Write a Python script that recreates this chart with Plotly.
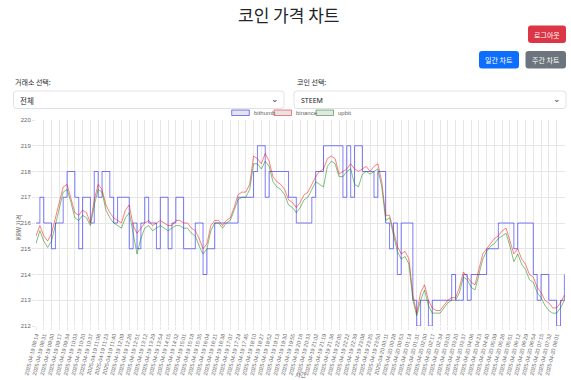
import plotly.graph_objects as go

# ---------------- data ----------------
tick_labels = [
    "2025-04-19 08:14", "2025-04-19 08:31", "2025-04-19 09:00", "2025-04-19 09:17", "2025-04-19 09:34",
    "2025-04-19 10:03", "2025-04-19 10:20", "2025-04-19 10:37", "2025-04-19 11:06", "2025-04-19 11:23",
    "2025-04-19 11:40", "2025-04-19 12:09", "2025-04-19 12:26", "2025-04-19 12:51", "2025-04-19 13:12",
    "2025-04-19 13:29", "2025-04-19 13:54", "2025-04-19 14:15", "2025-04-19 14:32", "2025-04-19 15:01",
    "2025-04-19 15:18", "2025-04-19 15:35", "2025-04-19 16:04", "2025-04-19 16:21", "2025-04-19 16:38",
    "2025-04-19 17:07", "2025-04-19 17:24", "2025-04-19 17:45", "2025-04-19 18:10", "2025-04-19 18:27",
    "2025-04-19 18:52", "2025-04-19 19:13", "2025-04-19 19:30", "2025-04-19 19:55", "2025-04-19 20:16",
    "2025-04-19 20:33", "2025-04-19 21:02", "2025-04-19 21:19", "2025-04-19 21:36", "2025-04-19 22:05",
    "2025-04-19 22:22", "2025-04-19 22:39", "2025-04-19 23:08", "2025-04-19 23:25", "2025-04-19 23:50",
    "2025-04-20 00:11", "2025-04-20 00:28", "2025-04-20 00:53", "2025-04-20 01:14", "2025-04-20 01:31",
    "2025-04-20 02:00", "2025-04-20 02:17", "2025-04-20 02:34", "2025-04-20 03:03", "2025-04-20 03:20",
    "2025-04-20 03:37", "2025-04-20 04:06", "2025-04-20 04:23", "2025-04-20 04:40", "2025-04-20 05:09",
    "2025-04-20 05:26", "2025-04-20 05:51", "2025-04-20 06:12", "2025-04-20 06:29", "2025-04-20 06:54",
    "2025-04-20 07:15", "2025-04-20 07:32", "2025-04-20 08:01",
]

bithumb = [
    216, 217, 216, 216, 215, 216, 216, 217, 218, 218, 217, 215, 217, 217, 216, 218, 217, 218, 218, 217,
    216, 217, 217, 217, 215, 216, 215, 216, 217, 216, 216, 215, 217, 217, 215, 216, 217, 217, 215, 215,
    215, 216, 216, 214, 215, 215, 216, 216, 216, 216, 216, 216, 217, 217, 217, 217, 218, 219, 219, 217,
    218, 218, 218, 218, 218, 217, 217, 216, 216, 216, 216, 217, 218, 218, 219, 219, 219, 219, 219, 217,
    219, 217, 219, 219, 218, 218, 218, 217, 218, 218, 216, 215, 216, 214, 216, 216, 216, 213, 212, 213,
    213, 212, 213, 213, 213, 213, 213, 214, 213, 213, 214, 213, 214, 214, 214, 214, 215, 215, 215, 216,
    216, 216, 216, 215, 216, 216, 216, 216, 214, 213, 214, 214, 213, 213, 212, 213, 214,
]

binance = [
    215.5, 215.9, 215.5, 215.3, 215.6, 216.2, 216.7, 217.4, 217.5, 216.9, 216.4, 216.3, 216.5, 216.4, 216.0, 216.9, 217.5, 217.3, 216.7, 216.4,
    216.2, 216.1, 216.0, 216.5, 216.7, 215.9, 215.6, 215.8, 216.0, 216.1, 215.9, 216.0, 216.1, 216.0, 215.9, 215.9, 216.1, 216.1, 216.0, 216.0,
    215.8, 215.7, 215.4, 215.0, 215.2, 215.9, 216.1, 216.1, 215.9, 216.1, 216.2, 216.6, 217.1, 217.2, 217.2, 217.5, 218.6, 218.5, 218.3, 218.7,
    218.4, 217.8, 217.6, 217.5, 217.3, 216.9, 216.8, 216.6, 216.8, 217.1, 217.2, 217.5, 217.8, 218.0, 218.1, 218.5, 218.6, 218.5, 217.9, 218.0,
    218.1, 218.3, 218.1, 218.0, 218.1, 218.2, 218.0, 218.2, 218.3, 217.6, 216.3, 216.3, 215.7, 215.1, 214.8, 214.9, 214.6, 213.2, 212.5, 213.3,
    213.6, 213.0, 212.7, 212.6, 212.6, 212.8, 213.0, 213.1, 213.1, 213.5, 214.1, 213.9, 213.7, 213.6, 214.2, 214.8, 215.0, 215.2, 215.4, 215.5,
    215.7, 215.8, 215.3, 214.8, 215.0, 214.6, 214.4, 214.0, 213.9, 213.5, 213.3, 213.0, 212.9, 212.7, 212.7, 212.9, 213.2,
]

upbit = [
    215.2, 215.7, 215.3, 215.05, 215.3, 215.9, 216.5, 217.2, 217.3, 216.8, 216.2, 216.1, 216.3, 216.2, 215.9, 216.7, 217.3, 217.2, 216.5, 216.2,
    216.0, 215.9, 215.8, 216.2, 216.4, 215.6, 214.8, 215.4, 215.8, 215.9, 215.7, 215.8, 215.9, 215.8, 215.7, 215.8, 215.9, 215.9, 215.8, 215.8,
    215.6, 215.5, 215.1, 214.8, 215.0, 215.7, 216.0, 216.0, 215.8, 216.0, 216.1, 216.5, 216.9, 217.0, 217.0, 217.3, 218.3, 218.3, 218.1, 218.4,
    218.2, 217.6, 217.4, 217.3, 217.1, 216.7, 216.6, 216.4, 216.6, 216.9, 217.0, 217.3, 217.6, 217.5, 217.4, 218.2, 218.4, 218.3, 217.8, 217.8,
    218.0, 218.1, 217.5, 217.4, 217.9, 218.0, 217.9, 218.0, 218.1, 217.4, 216.1, 216.2, 215.5, 214.9, 214.6, 214.7, 214.4, 213.0, 212.4, 213.0,
    213.4, 212.8, 212.5, 212.5, 212.5, 212.7, 212.9, 213.0, 213.0, 213.3, 213.9, 213.8, 213.5, 213.4, 214.0, 214.6, 214.9, 215.1, 215.2, 215.4,
    215.5, 215.6, 215.1, 214.5, 214.8, 214.4, 214.2, 213.8, 213.7, 213.3, 213.1, 212.8, 212.6, 212.5, 212.5, 212.7, 213.0,
]

series_names = ["bithumb", "binance", "upbit"]
series_colors = ["rgba(0,0,255,0.5)", "rgba(255,0,0,0.5)", "rgba(0,128,0,0.5)"]

y_min, y_max = 212, 220
STEP = 0.5  # two samples per tick-label interval
x_vals = [i * STEP for i in range(len(binance))]

# ---------------- geometry ----------------
FW, FH = 571, 380
L, R, T, B = 36, 565, 120, 326
PW, PH = R - L, B - T

def px(x):
    return (x - L) / PW

def py(y):
    return (B - y) / PH

KR = "Noto Sans CJK KR"
LAT = "Liberation Sans"

fig = go.Figure()
for name, col, vals in zip(series_names, series_colors, [bithumb, binance, upbit]):
    fig.add_trace(go.Scatter(
        x=x_vals, y=vals, mode="lines", name=name,
        line=dict(color=col, width=1, shape="hv" if name == "bithumb" else "linear"),
        showlegend=False, hoverinfo="skip",
    ))

shapes = []
annotations = []

def rrect(x0, y0, x1, y1, r, fill, line_color=None, lw=0):
    rx, ry = r / PW, r / PH
    X0, X1 = px(x0), px(x1)
    Yt, Yb = py(y0), py(y1)
    path = (f"M {X0+rx},{Yt} L {X1-rx},{Yt} Q {X1},{Yt} {X1},{Yt-ry} "
            f"L {X1},{Yb+ry} Q {X1},{Yb} {X1-rx},{Yb} L {X0+rx},{Yb} "
            f"Q {X0},{Yb} {X0},{Yb+ry} L {X0},{Yt-ry} Q {X0},{Yt} {X0+rx},{Yt} Z")
    shapes.append(dict(type="path", xref="paper", yref="paper", path=path,
                       fillcolor=fill, line=dict(color=line_color or fill, width=lw), layer="above"))

def text(x, y, s, size, color, font=KR, xanchor="left", textangle=0):
    annotations.append(dict(x=px(x), y=py(y), xref="paper", yref="paper", text=s,
                            showarrow=False, xanchor=xanchor, yanchor="middle",
                            font=dict(size=size, color=color, family=font), textangle=textangle))

# title
text(288, 14, "코인 가격 차트", 17, "#212529", xanchor="center")
# buttons
rrect(528, 25.5, 566, 43, 3, "#dc3545")
text(547, 34.5, "로그아웃", 7, "white", xanchor="center")
rrect(479, 51, 519, 68.5, 3, "#0d6efd")
text(499, 60, "일간 차트", 7, "white", xanchor="center")
rrect(525.5, 51, 566, 68.5, 3, "#6c757d")
text(545.8, 60, "주간 차트", 7, "white", xanchor="center")
# select labels
text(13, 82, "거래소 선택:", 7, "#212529")
text(295, 82, "코인 선택:", 7, "#212529")
# select boxes
rrect(13.5, 91, 284, 108.5, 3, "white", "#dee2e6", 1)
rrect(294, 91, 566, 108.5, 3, "white", "#dee2e6", 1)
text(18, 100, "전체", 7.5, "#212529")
text(299, 100, "STEEM", 7, "#212529", font="Noto Sans")
for cx in (275, 557):
    annotations.append(dict(x=px(cx), y=py(99.5), xref="paper", yref="paper", text="⌄",
                            showarrow=False, xanchor="center", yanchor="middle",
                            font=dict(size=9, color="#343a40", family="DejaVu Sans")))

# legend (Chart.js style boxes)
leg = [(231.7, 249.3, 251.7, "bithumb"), (274, 291.5, 294, "binance"), (316, 333.5, 336, "upbit")]
for (bx0, bx1, tx, name), col in zip(leg, series_colors):
    shapes.append(dict(type="rect", xref="paper", yref="paper", x0=px(bx0), x1=px(bx1),
                       y0=py(115.5), y1=py(110), fillcolor="rgba(0,0,0,0.1)",
                       line=dict(color=col, width=1), layer="above"))
    text(tx, 112.8, name, 6, "#666666", font=LAT)

# axis titles
text(18, 228, "KRW 가격", 6, "#666666", xanchor="center", textangle=-90)
text(300.5, 374.5, "시간", 6, "#666666", xanchor="center")

grid = "#e6e6e6"
fig.update_layout(
    width=FW, height=FH, autosize=False,
    margin=dict(l=L, r=FW - R, t=T, b=FH - B, pad=0),
    paper_bgcolor="white", plot_bgcolor="white",
    shapes=shapes, annotations=annotations,
    xaxis=dict(range=[0, 68.08], tickmode="array", tickvals=list(range(len(tick_labels))),
               ticktext=tick_labels, tickangle=-76, tickfont=dict(size=5.4, color="#666666", family=LAT),
               showgrid=True, gridcolor=grid, gridwidth=1, zeroline=False, showline=False,
               ticks="outside", ticklen=3, tickcolor=grid, automargin=False),
    yaxis=dict(range=[y_min, y_max], dtick=1, tickfont=dict(size=6, color="#666666", family=LAT),
               showgrid=True, gridcolor=grid, gridwidth=1, zeroline=False, showline=False,
               ticks="outside", ticklen=3, tickcolor=grid, automargin=False),
    showlegend=False,
)

fig.write_html("out.html", config={"displayModeBar": False},
               post_script="document.body.style.margin='0';")
